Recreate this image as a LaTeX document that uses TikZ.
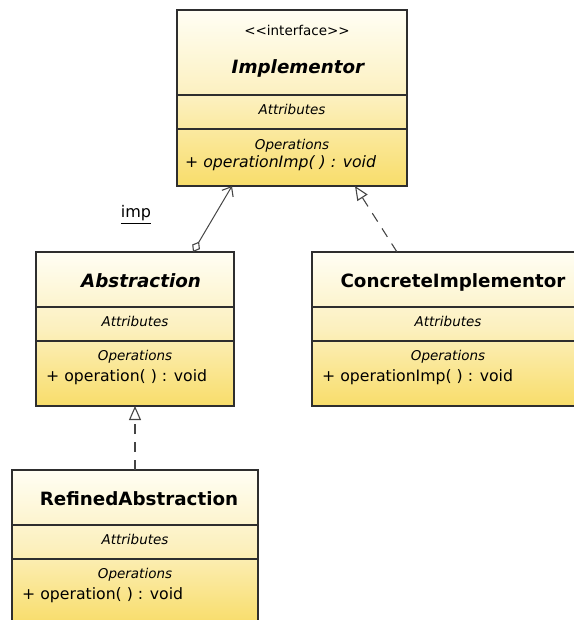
\documentclass[tikz,border=0pt]{standalone}
\usepackage{fontspec}
\setmainfont{DejaVu Sans}
\usetikzlibrary{arrows.meta,calc}

\definecolor{umltop}{HTML}{FFFEF4}
\definecolor{umlmid}{HTML}{FCF0BE}
\definecolor{umlbot}{HTML}{F8DD6A}
\definecolor{umledge}{HTML}{2E2E2E}
\definecolor{umlline}{HTML}{454545}

\tikzset{
  classbox/.style={draw=umledge, line width=1.2pt, top color=umltop,
    bottom color=umlbot, middle color=umlmid, inner sep=0pt, outer sep=0pt,
    anchor=north west},
  divider/.style={draw=umledge, line width=1.2pt},
  classname/.style={anchor=base, inner sep=0pt,
    font=\fontsize{18.3}{20}\selectfont\bfseries},
  abstractname/.style={classname, font=\fontsize{18.3}{20}\selectfont\bfseries\itshape},
  stereo/.style={anchor=base, inner sep=0pt, font=\fontsize{13.5}{15}\selectfont},
  section/.style={anchor=base, inner sep=0pt, font=\fontsize{13.5}{15}\selectfont\itshape},
  member/.style={anchor=base west, inner sep=0pt, font=\fontsize{15.7}{18}\selectfont},
  absmember/.style={member, font=\fontsize{15.7}{18}\selectfont\itshape},
  rolelabel/.style={anchor=base, inner sep=0pt, font=\fontsize{16}{18}\selectfont},
  assoc/.style={draw=umlline, line width=1pt,
    {Diamond[open, length=12pt, width=9pt, line width=1.1pt]}-{Straight Barb[length=8pt, width=13pt, line width=1.1pt]}},
  realize/.style={draw=umlline, line width=1.1pt, dash pattern=on 10pt off 8pt,
    -{Triangle[open, length=14pt, width=12pt, line width=1.1pt]}},
}

\begin{document}
\begin{tikzpicture}[x=1pt, y=-1pt]
  \useasboundingbox (0,0) rectangle (573,620);

  % Implementor (interface)
  \node[classbox, minimum width=230pt, minimum height=176pt] (impl) at (177,10) {};
  \draw[divider] ($(impl.north west)+(0,85)$) -- ($(impl.north east)+(0,85)$);
  \draw[divider] ($(impl.north west)+(0,119)$) -- ($(impl.north east)+(0,119)$);
  \node[stereo] (implstereo) at (297,36) {<\kern0pt<interface>\kern0pt>};
  \node[abstractname] (implname) at (298,74) {Implementor};
  \node[section] (implattr) at (292,115) {Attributes};
  \node[section] (implops) at (292,150) {Operations};
  \node[absmember] (implop) at (185,168) {+ operationImp( ) : void};

  % Abstraction
  \node[classbox, minimum width=198pt, minimum height=154pt] (abs) at (36,252) {};
  \draw[divider] ($(abs.north west)+(0,55)$) -- ($(abs.north east)+(0,55)$);
  \draw[divider] ($(abs.north west)+(0,89)$) -- ($(abs.north east)+(0,89)$);
  \node[abstractname] (absname) at (141,287) {Abstraction};
  \node[section] (absattr) at (135,326.5) {Attributes};
  \node[section] (absops) at (135,360.5) {Operations};
  \node[member] (absop) at (46,381.5) {+ operation( ) : void};

  % ConcreteImplementor
  \node[classbox, minimum width=272pt, minimum height=154pt] (conc) at (312,252) {};
  \draw[divider] ($(conc.north west)+(0,55)$) -- ($(conc.north east)+(0,55)$);
  \draw[divider] ($(conc.north west)+(0,89)$) -- ($(conc.north east)+(0,89)$);
  \node[classname] (concname) at (453,287) {ConcreteImplementor};
  \node[section] (concattr) at (448,326.5) {Attributes};
  \node[section] (concops) at (448,360.5) {Operations};
  \node[member] (concop) at (322,381.5) {+ operationImp( ) : void};

  % RefinedAbstraction
  \node[classbox, minimum width=246pt, minimum height=154pt] (ref) at (12,470) {};
  \draw[divider] ($(ref.north west)+(0,55)$) -- ($(ref.north east)+(0,55)$);
  \draw[divider] ($(ref.north west)+(0,89)$) -- ($(ref.north east)+(0,89)$);
  \node[classname] (refname) at (139,505) {RefinedAbstraction};
  \node[section] (refattr) at (135,544.5) {Attributes};
  \node[section] (refops) at (135,578.5) {Operations};
  \node[member] (refop) at (22,599.5) {+ operation( ) : void};

  % Relations
  \draw[assoc] ($(abs.north west)+(157,0)$) -- ($(impl.south west)+(55,0)$);
  \node[rolelabel] (implrole) at (136,218) {\underline{imp}};
  \draw[realize] ($(conc.north west)+(85,0)$) -- ($(impl.south west)+(178,0)$);
  \draw[realize] (ref.north) -- (abs.south);
\end{tikzpicture}
\end{document}
